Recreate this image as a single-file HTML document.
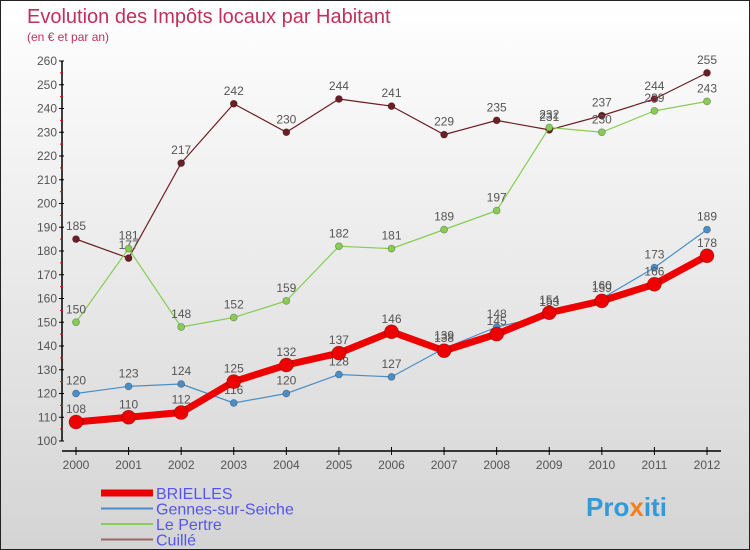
<!DOCTYPE html>
<html><head><meta charset="utf-8"><style>
body{margin:0}
#c{width:750px;height:550px;position:relative;overflow:hidden;box-sizing:border-box;border:1px solid #222;background:linear-gradient(#fff 0%,#f2f2f2 30%,#d4d4d4 100%);font-family:"Liberation Sans",sans-serif}
</style></head><body>
<div id="c">
<svg id="s" width="750" height="550" style="position:absolute;left:0;top:0">
<text x="26" y="22" font-size="20" fill="#c0305a">Evolution des Impôts locaux par Habitant</text>
<text x="26" y="40" font-size="12" fill="#c0305a">(en € et par an)</text>
<text x="585" y="515" font-size="26" font-weight="bold" fill="#3399dd">Pro<tspan fill="#f08020">x</tspan>iti</text>
</svg>
</div>
<script>
const years=[2000,2001,2002,2003,2004,2005,2006,2007,2008,2009,2010,2011,2012];
const yTicks=[100,110,120,130,140,150,160,170,180,190,200,210,220,230,240,250,260];
const seriesNames=["BRIELLES","Gennes-sur-Seiche","Le Pertre","Cuillé"];
const brielles=[108,110,112,125,132,137,146,138,145,154,159,166,178];
const gennes=[120,123,124,116,120,128,127,139,148,153,160,173,189];
const lepertre=[150,181,148,152,159,182,181,189,197,232,230,239,243];
const cuille=[185,177,217,242,230,244,241,229,235,231,237,244,255];
const NS="http://www.w3.org/2000/svg";
const s=document.getElementById('s');
const X=i=>75+i*(706-75)/(years.length-1);
const Y=v=>440-(v-100)*380/160;
function mk(t,a,p){const e=document.createElementNS(NS,t);for(const k in a)e.setAttribute(k,a[k]);(p||s).appendChild(e);return e;}
let ax=mk('line',{x1:61,y1:60,x2:61,y2:440,stroke:'#000','stroke-width':1.5});

let bx=mk('line',{x1:61,y1:450,x2:720,y2:450,stroke:'#000','stroke-width':1.5});

yTicks.forEach((v,i)=>{
  mk('line',{x1:58,x2:63,y1:Y(v),y2:Y(v),stroke:'#000'});
  if(i<yTicks.length-1)mk('line',{x1:59,x2:62,y1:Y(v+5),y2:Y(v+5),stroke:'#e00'});
  const t=mk('text',{x:56,y:Y(v)+4,'text-anchor':'end','font-size':12,fill:'#555'});t.textContent=v;
  
});
years.forEach((y,i)=>{
  mk('line',{x1:X(i),x2:X(i),y1:446,y2:454,stroke:'#000'});
  const t=mk('text',{x:X(i),y:468,'text-anchor':'middle','font-size':12,fill:'#555'});t.textContent=y;
  
});
const defs=[[cuille,'#6b1e24',1.2,3.5,'cuille'],[lepertre,'#88cc55',1.2,3.5,'le-pertre'],[gennes,'#4a8ec8',1.2,3.5,'gennes-sur-seiche'],[brielles,'#ee0000',7,7,'brielles']];
defs.forEach(([d,c,w,r,n])=>{
  const g=mk('g',{});
  mk('polyline',{points:d.map((v,i)=>X(i)+','+Y(v)).join(' '),fill:'none',stroke:c,'stroke-width':w,'stroke-linejoin':'round'},g);
  d.forEach((v,i)=>{
    const p=mk('circle',{cx:X(i),cy:Y(v),r:r,fill:c,stroke:'rgba(0,0,0,0.3)','stroke-width':0.8},g);
    
    const t=mk('text',{x:X(i),y:Y(v)-9,'text-anchor':'middle','font-size':12,fill:'#555'},g);t.textContent=v;
    
  });
});
const lc=['#ee0000','#4a8ec8','#88cc55','#996666'],lw=[7,2,2,2];
seriesNames.forEach((n,i)=>{
  const y=492+i*15.5;
  const g=mk('g',{});
  mk('line',{x1:100,x2:152,y1:y,y2:y,stroke:lc[i],'stroke-width':lw[i]},g);
  const t=mk('text',{x:155,y:y+6,'font-size':16,fill:'#5555ee'},g);t.textContent=n;
});
</script>
</body></html>
